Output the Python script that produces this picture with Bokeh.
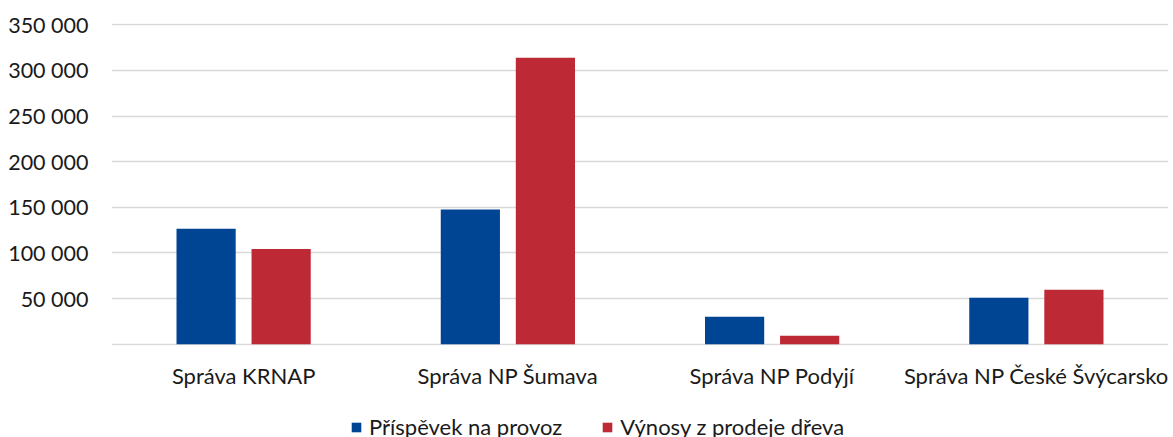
from bokeh.plotting import figure
from bokeh.models import (ColumnDataSource, FactorRange, Range1d, FixedTicker,
                          Legend, LegendItem)
from bokeh.layouts import column
from bokeh.transform import dodge
from bokeh.embed import file_html
from bokeh.resources import INLINE

categories = ["Správa KRNAP", "Správa NP Šumava", "Správa NP Podyjí", "Správa NP České Švýcarsko"]
prispevek = [126400, 147600, 29900, 50800]
vynosy = [104200, 313900, 9100, 59500]
series_names = ["Příspěvek na provoz", "Výnosy z prodeje dřeva"]
y_ticks = [0, 50000, 100000, 150000, 200000, 250000, 300000, 350000]
y_tick_labels = ["", "50 000", "100 000", "150 000", "200 000", "250 000", "300 000", "350 000"]

BLUE = "#004494"
RED = "#BD2A35"
FONT = "Lato"
FS_Y = "21.5px"
FS = "22px"
TXT = "#1a1a1a"
GRID = "#d9d9d9"

src = ColumnDataSource(dict(cat=categories, a=prispevek, b=vynosy))

p = figure(width=1173, height=402, x_range=FactorRange(*categories),
           y_range=Range1d(-1500, 351500), output_backend="svg",
           toolbar_location=None, min_border_left=111, min_border_right=5,
           min_border_top=23, min_border_bottom=57)
p.outline_line_color = None
p.background_fill_color = "white"
p.border_fill_color = "white"

p.vbar(x=dodge("cat", -0.142, range=p.x_range), top="a", width=0.224,
       source=src, fill_color=BLUE, line_color=None)
p.vbar(x=dodge("cat", 0.142, range=p.x_range), top="b", width=0.224,
       source=src, fill_color=RED, line_color=None)

p.x_range.range_padding = 0
p.xgrid.grid_line_color = None
p.ygrid.grid_line_color = GRID
p.ygrid.grid_line_width = 1.5

p.yaxis.ticker = FixedTicker(ticks=y_ticks)
p.yaxis.major_label_overrides = {t: l for t, l in zip(y_ticks, y_tick_labels)}
p.ygrid.ticker = FixedTicker(ticks=y_ticks)
for ax in (p.xaxis, p.yaxis):
    ax.axis_line_color = None
    ax.major_tick_line_color = None
    ax.minor_tick_line_color = None
    ax.major_tick_out = 0
    ax.major_tick_in = 0
    ax.major_label_text_font = FONT
    ax.major_label_text_color = TXT
p.yaxis.major_label_text_font_size = FS_Y
p.xaxis.major_label_text_font_size = FS
p.yaxis.major_label_standoff = 23
p.xaxis.major_label_standoff = 16

# legend strip below the chart (its renderers are hidden; only the legend shows)
pl = figure(width=1173, height=35, x_range=Range1d(0, 1), y_range=Range1d(0, 1),
            output_backend="svg", toolbar_location=None,
            min_border_left=0, min_border_right=0, min_border_top=0, min_border_bottom=0)
pl.axis.visible = False
pl.grid.visible = False
pl.outline_line_color = None
l1 = pl.vbar(x="a", top="a", width=0.1, source=src, fill_color=BLUE, line_color=None, visible=False)
l2 = pl.vbar(x="b", top="b", width=0.1, source=src, fill_color=RED, line_color=None, visible=False)
legend = Legend(items=[LegendItem(label=series_names[0], renderers=[l1]),
                       LegendItem(label=series_names[1], renderers=[l2])],
                orientation="horizontal", location=(239, -3),
                glyph_width=12, glyph_height=12, label_standoff=7,
                spacing=39, padding=0, margin=0, border_line_color=None,
                background_fill_alpha=0, label_text_font=FONT,
                label_text_font_size=FS, label_text_color=TXT, label_height=20)
pl.add_layout(legend, "center")

layout = column(p, pl, spacing=0)
open("out.html", "w").write(file_html(layout, INLINE))
